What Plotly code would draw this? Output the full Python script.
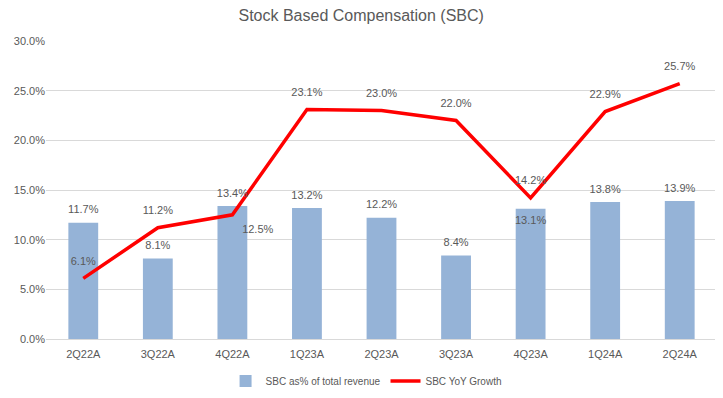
import plotly.graph_objects as go

quarters = ["2Q22A", "3Q22A", "4Q22A", "1Q23A", "2Q23A", "3Q23A", "4Q23A", "1Q24A", "2Q24A"]
sbc_pct_revenue = [11.7, 8.1, 13.4, 13.2, 12.2, 8.4, 13.1, 13.8, 13.9]
sbc_yoy_growth = [6.1, 11.2, 12.5, 23.1, 23.0, 22.0, 14.2, 22.9, 25.7]
y_ticks = [0, 5, 10, 15, 20, 25, 30]

TXT = "#595959"
FONT = "Liberation Sans Narrow, Liberation Sans, Arial"
CLEAR = "rgba(0,0,0,0)"

bar_pos = ["top center"] * len(quarters)
bar_pos[6] = "bottom center"
line_pos = ["top center"] * len(quarters)
line_pos[2] = "bottom right"
line_lbl_size = [16] * len(quarters)
line_lbl_size[2] = 14

fig = go.Figure()
fig.add_trace(go.Bar(
    x=quarters, y=sbc_pct_revenue, name="SBC as% of total revenue",
    marker=dict(color="#95B3D7", line=dict(width=0)),
    width=0.4,
))
fig.add_trace(go.Scatter(
    x=quarters, y=sbc_yoy_growth, name="SBC YoY Growth",
    mode="lines", line=dict(color="#FF0000", width=3.5),
))
# data labels
fig.add_trace(go.Scatter(
    x=quarters, y=sbc_pct_revenue, mode="markers+text", showlegend=False,
    marker=dict(size=9, color=CLEAR, line=dict(width=0, color=CLEAR)),
    text=[f"{v:.1f}%" for v in sbc_pct_revenue], textposition=bar_pos,
    textfont=dict(color=TXT, size=11, family=FONT), cliponaxis=False,
    hoverinfo="skip",
))
fig.add_trace(go.Scatter(
    x=quarters, y=sbc_yoy_growth, mode="markers+text", showlegend=False,
    marker=dict(size=line_lbl_size, color=CLEAR, line=dict(width=0, color=CLEAR)),
    text=[f"{v:.1f}%" for v in sbc_yoy_growth], textposition=line_pos,
    textfont=dict(color=TXT, size=11, family=FONT), cliponaxis=False,
    hoverinfo="skip",
))

fig.update_layout(
    width=715, height=390,
    margin=dict(l=38, r=6, t=33, b=59, autoexpand=False),
    paper_bgcolor="white", plot_bgcolor="white",
    title=dict(text="Stock Based Compensation (SBC)", x=0.494, xanchor="center",
               xref="container",
               y=0.982, yanchor="middle", yref="container",
               font=dict(size=16, color=TXT, family=FONT)),
    font=dict(family=FONT, color=TXT, size=11),
    showlegend=True,
    legend=dict(orientation="h", x=0.477, xanchor="center", y=-0.141, yanchor="middle",
                font=dict(size=10, color=TXT, family=FONT), itemwidth=30),
    bargap=0.6,
)
fig.update_xaxes(range=[-0.5, len(quarters) - 0.5], autorange=False,
                 showgrid=False, showline=True, linecolor="#D9D9D9", ticks="",
                 ticklabelstandoff=5,
                 tickfont=dict(size=11, color=TXT, family=FONT))
fig.update_yaxes(range=[0, 30], tickvals=y_ticks,
                 ticktext=[f"{v:.1f}%" for v in y_ticks],
                 showgrid=True, gridcolor="#D9D9D9", zeroline=False,
                 showline=False, ticks="",
                 tickfont=dict(size=11, color=TXT, family=FONT))

fig.write_html("out.html")
